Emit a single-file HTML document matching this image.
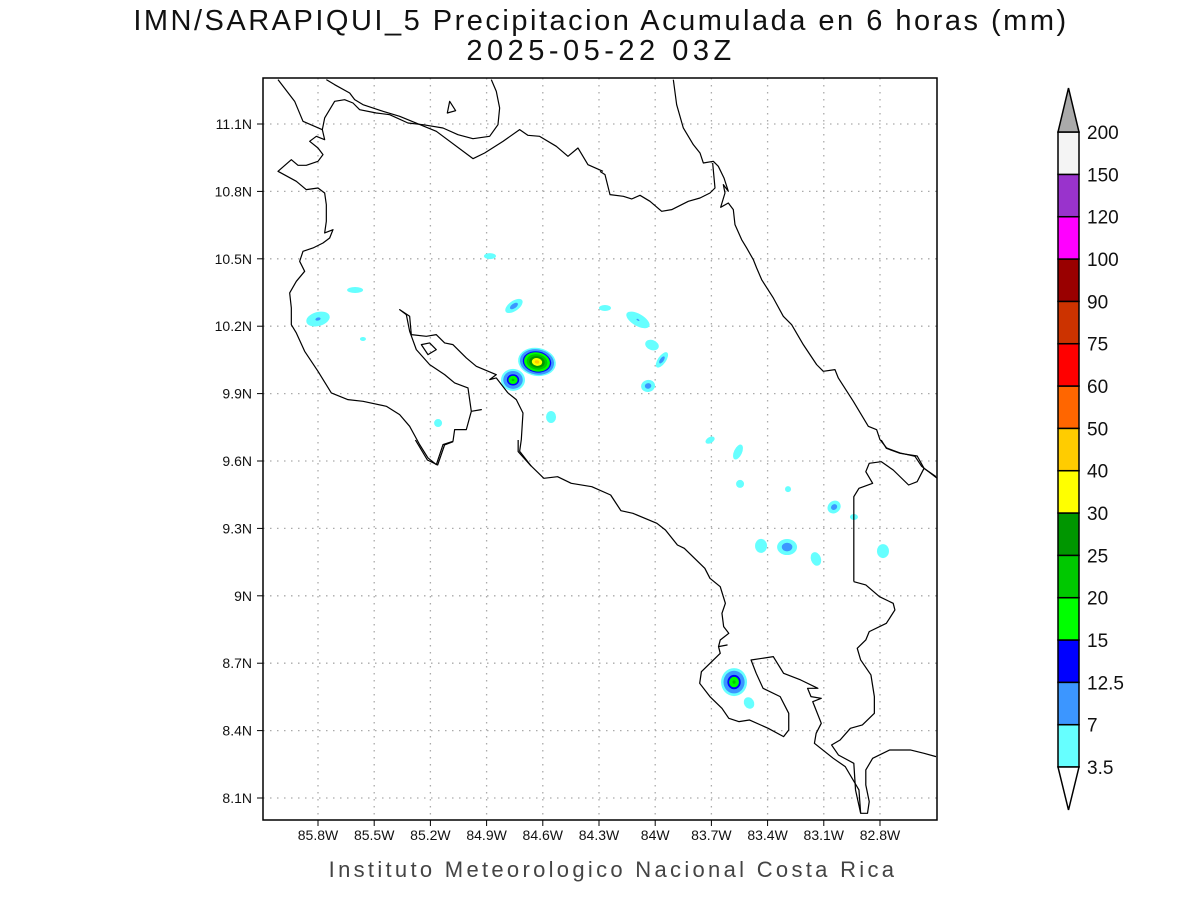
<!DOCTYPE html>
<html><head><meta charset="utf-8"><style>
html,body{margin:0;padding:0;background:#fff;width:1200px;height:900px;overflow:hidden}
svg{display:block;font-family:"Liberation Sans",sans-serif}
</style></head><body>
<svg id="chart" width="1200" height="900" viewBox="0 0 1200 900">
<text x="601" y="30" text-anchor="middle" font-size="29" fill="#111" letter-spacing="2.5">IMN/SARAPIQUI_5 Precipitacion Acumulada en 6 horas (mm)</text>
<text x="601" y="60" text-anchor="middle" font-size="29" fill="#111" letter-spacing="4.5">2025-05-22 03Z</text>
<g id="grid"></g>
<g id="blobs"></g>
<g fill="none" stroke="#000" stroke-width="3.6" stroke-linejoin="round">
 <g transform="translate(263,78) scale(0.3333)">
  <polyline points="45,5 95,70 120,130 178,155 185,120 215,70 245,65 270,75 290,95 340,105 380,110 435,135 480,140 540,150 585,170 630,182 680,175 705,140 710,90 700,40 685,5"/>
  <polyline points="190,5 215,20 260,45 275,65 300,80 360,100 410,115 520,160 630,242 665,225 720,190 770,155 795,172 830,175 880,205 915,235 945,210 975,260 1020,280"/>
  <polyline points="178,155 185,185 160,175 140,190 165,210 180,230 165,250 130,262 105,262 85,245 45,280 100,310 130,335 165,330 185,345 190,380 190,430 185,465 210,455 200,480 180,495 150,510 120,520 110,550 125,580 100,610 80,645 85,690 85,740 100,765 125,820 165,880 205,945 255,965 300,970 370,985 410,1010 440,1045 470,1100 495,1140 520,1160 540,1100 570,1090 575,1055 610,1055 625,1000 655,995 625,1000 615,930 575,915 545,890 500,860 460,815 440,760 430,710 410,695 440,715 445,770 490,775 520,770 545,795 570,800 610,840 640,865 700,890 680,905 700,900 735,945 760,965 780,1005 775,1085 770,1120 805,1165"/>
  <polygon points="475,800 500,795 520,815 495,830"/>
  <polygon points="553,105 560,70 578,98"/>
 </g>
 <g transform="translate(600,78) scale(0.3333)">
  <polyline points="220,5 230,80 250,150 280,200 300,225 310,255 340,250 355,265 372,300 385,340 370,320 375,345 362,388 385,375 400,395 405,440 425,485 440,510 460,545 470,570 485,605 520,660 550,715 575,740 610,800 650,860 670,880 705,875 715,900 760,970 805,1045 830,1055 840,1085 860,1110 900,1125 945,1135 965,1165 1010,1200"/>
  <polyline points="0,280 15,290 30,350 70,355 95,363 120,352 150,370 185,400 215,395 265,370 300,360 330,345 345,330 338,255"/>
 </g>
 <g transform="translate(400,440) scale(0.3425,0.3333)">
  <polyline points="45,0 80,60 110,75 130,15 155,5"/>
  <polyline points="345,0 345,35 380,75 420,115 460,110 500,130 560,140 615,165 645,212 680,220 750,250 775,270 810,315 830,325 860,355 890,385 905,415 935,440 950,490 940,520 945,560 960,580 935,600 930,620 955,615 930,620 935,640 910,665 880,695 875,730 905,770 940,805 960,835 990,845 1020,840 1075,865 1120,890 1135,870 1135,820 1110,770 1060,745 1040,700 1025,660 1090,650 1120,700 1170,720 1220,745 1190,745 1200,770 1230,775 1205,785 1230,850 1215,880 1210,910 1265,955 1300,980 1340,1050 1345,1120 1365,1120 1370,1085 1360,1035 1360,990 1380,955 1430,930 1490,930 1530,940 1565,950"/>
  <polyline points="1325,425 1325,170 1340,145 1380,130 1360,95 1370,70 1405,65 1440,90 1485,135 1510,125 1530,85 1565,110"/>
  <polyline points="1405,0 1420,25 1460,40 1510,48 1530,85"/>
  <polyline points="1325,425 1360,435 1400,470 1440,490 1445,510 1420,550 1370,575 1360,600 1335,625 1345,660 1375,705 1385,770 1385,820 1350,855 1315,865 1285,900 1260,915 1280,945 1325,970 1330,1050 1345,1120"/>
 </g>
</g>
<rect x="263" y="78" width="674" height="742" fill="none" stroke="#000" stroke-width="1.5"/>
<g id="axes" font-size="14" fill="#111"></g>
<g id="cbar"></g>
<text x="613" y="877" text-anchor="middle" font-size="22" fill="#444" letter-spacing="3.3">Instituto Meteorologico Nacional Costa Rica</text>
</svg>
<script>
const lonTicks=[-85.8,-85.5,-85.2,-84.9,-84.6,-84.3,-84,-83.7,-83.4,-83.1,-82.8];
const lonLabels=["85.8W","85.5W","85.2W","84.9W","84.6W","84.3W","84W","83.7W","83.4W","83.1W","82.8W"];
const latTicks=[8.1,8.4,8.7,9,9.3,9.6,9.9,10.2,10.5,10.8,11.1];
const latLabels=["8.1N","8.4N","8.7N","9N","9.3N","9.6N","9.9N","10.2N","10.5N","10.8N","11.1N"];
const levels=[3.5,7,12.5,15,20,25,30,40,50,60,75,90,100,120,150,200];
const levelColors=["#66ffff","#3c96ff","#0000ff","#00ff00","#00c800","#009600","#ffff00","#ffcc00","#ff6600","#ff0000","#cc3300","#990000","#ff00ff","#9933cc","#f4f4f4"];
// precipitation cells: centre lon/lat, peak value (mm)
const cellLon=[-85.800,-85.602,-85.560,-84.882,-84.754,-85.159,-84.556,-84.631,-84.759,-84.268,-84.092,-84.017,-83.964,-84.038,-83.707,-83.558,-83.547,-83.291,-83.045,-82.939,-83.435,-83.296,-83.142,-82.784,-83.579,-83.499];
const cellLat=[10.232,10.361,10.143,10.512,10.290,9.769,9.796,10.041,9.961,10.281,10.228,10.116,10.050,9.934,9.693,9.640,9.498,9.475,9.395,9.351,9.222,9.217,9.164,9.199,8.616,8.523];
const cellMax=[8,5,5,5,10,5,5,40,22,5,7.5,5,10,10,5,5,5,5,10,5,5,11,5,5,22,5];
const cellRx=[12,8,3,6,10,4,5,19,12,6,13,7,9,7,5,4,4,3,7,4,6,10,5,6,13,5];
const cellRy=[7,3,2,3,5,4,6,14,11,3,6,5,4,6,3,8,4,3,6,3,7,8,7,7,14,6];
const cellRot=[-15,0,0,0,-35,0,0,10,0,0,30,20,-55,-10,-30,25,0,0,-40,0,0,0,-20,0,0,-30];

const X0=318,PXLON=187.33,Y0=124,PXLAT=224.67;
const xs=lon=>X0+(lon+85.8)*PXLON;
const ys=lat=>Y0+(11.1-lat)*PXLAT;
const NS="http://www.w3.org/2000/svg";
function mk(t,a,p){const e=document.createElementNS(NS,t);for(const k in a)e.setAttribute(k,a[k]);p.appendChild(e);return e;}
const grid=document.getElementById('grid'),axes=document.getElementById('axes');
lonTicks.forEach((v,i)=>{const x=xs(v);
 const l=mk('line',{x1:x,y1:78,x2:x,y2:820,stroke:'#aaa','stroke-width':1.3,'stroke-dasharray':'1.5 5.5'},grid);
 
 
 const t=mk('line',{x1:x,y1:820,x2:x,y2:826,stroke:'#000'},axes);
 
 
 const tx=mk('text',{x:x,y:840,'text-anchor':'middle'},axes);tx.textContent=lonLabels[i];
 
 
});
latTicks.forEach((v,i)=>{const y=ys(v);
 const l=mk('line',{x1:263,y1:y,x2:937,y2:y,stroke:'#aaa','stroke-width':1.3,'stroke-dasharray':'1.5 5.5'},grid);
 
 
 const t=mk('line',{x1:257,y1:y,x2:263,y2:y,stroke:'#000'},axes);
 
 
 const tx=mk('text',{x:252,y:y+5,'text-anchor':'end'},axes);tx.textContent=latLabels[i];
 
 
});
const bl=document.getElementById('blobs');
cellLon.forEach((lon,i)=>{const cx=xs(lon),cy=ys(cellLat[i]);
 const rx=cellRx[i],ry=cellRy[i],mx=cellMax[i];
 for(let k=0;k<levels.length-1;k++){ if(mx<levels[k])break;
  const s=Math.max(0.12,(mx-levels[k])/(mx-levels[0]||1));
  const e=mk('ellipse',{cx:cx,cy:cy,rx:rx*(k?s:1),ry:ry*(k?s:1),fill:levelColors[k],transform:`rotate(${cellRot[i]} ${cx} ${cy})`},bl);
  
  
 }
});
// colorbar
const cb=document.getElementById('cbar');const bx=1058,bw=21,ybot=767,step=42.33;
const cby=k=>ybot-k*step;
for(let k=0;k<levelColors.length;k++){
 const r=mk('rect',{x:bx,y:cby(k+1),width:bw,height:step,fill:levelColors[k],stroke:'#000','stroke-width':1.5},cb);
 
 
}
const overTri=mk('polygon',{points:`${bx},${cby(15)} ${bx+bw},${cby(15)} ${bx+bw/2},88`,fill:'#aaaaaa',stroke:'#000','stroke-width':1.5},cb);


const underTri=mk('polygon',{points:`${bx},${ybot} ${bx+bw},${ybot} ${bx+bw/2},810`,fill:'#fff',stroke:'#000','stroke-width':1.5},cb);


levels.forEach((v,k)=>{const t=mk('text',{x:1087,y:cby(k)+7,'font-size':19,fill:'#111'},cb);t.textContent=v;
 
 
});
</script>
</body></html>
